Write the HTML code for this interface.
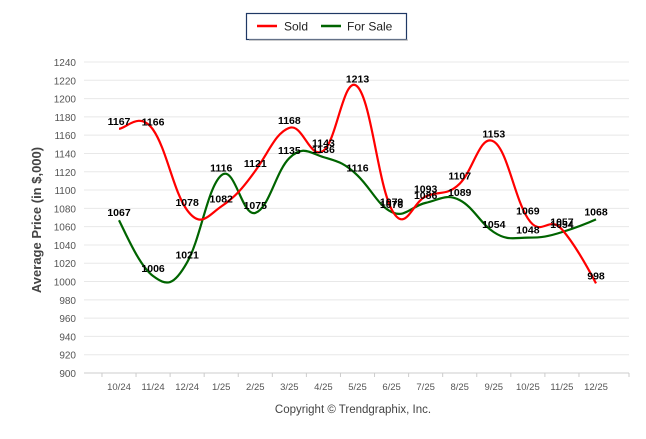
<!DOCTYPE html>
<html><head><meta charset="utf-8"><style>
body{margin:0;background:#fff;width:646px;height:434px;overflow:hidden;font-family:"Liberation Sans",sans-serif}
</style></head><body>
<svg id="c" width="646" height="434">
<g>
<rect x="246.5" y="13.5" width="160" height="26" fill="#fff" stroke="#1f3864" stroke-width="1.2"/>
<rect x="249" y="39" width="159" height="2" fill="#aaa" opacity="0.5"/>
<line x1="257" y1="26" x2="277" y2="26" stroke="#f00" stroke-width="2.5"/>
<text x="284" y="30.5" font-size="12" fill="#222">Sold</text>
<line x1="321" y1="26" x2="341" y2="26" stroke="#006400" stroke-width="2.5"/>
<text x="347" y="30.5" font-size="12" fill="#222">For Sale</text>
</g>
<text transform="translate(41,220) rotate(-90)" text-anchor="middle" font-size="13" font-weight="bold" fill="#444">Average Price (in $,000)</text>
<text x="353" y="413" text-anchor="middle" font-size="11.5" fill="#444">Copyright © Trendgraphix, Inc.</text>
<g id="grid"></g><g id="lines"></g><g id="labels"></g>
</svg>
<script>
const categories=["10/24","11/24","12/24","1/25","2/25","3/25","4/25","5/25","6/25","7/25","8/25","9/25","10/25","11/25","12/25"];
const sold=[1167,1166,1078,1082,1121,1168,1143,1213,1079,1093,1107,1153,1069,1057,998];
const forSale=[1067,1006,1021,1116,1075,1135,1136,1116,1076,1086,1089,1054,1048,1054,1068];
const yTicks=[900,920,940,960,980,1000,1020,1040,1060,1080,1100,1120,1140,1160,1180,1200,1220,1240];
const NS="http://www.w3.org/2000/svg";
const L=84,R=629,T=62,B=373,x0=119,step=(596-119)/14;
const xs=i=>x0+i*step, ys=v=>B-(v-900)/(340)*(B-T);
function mk(t,a,p){const e=document.createElementNS(NS,t);for(const k in a)e.setAttribute(k,a[k]);p.appendChild(e);return e;}
const g=document.getElementById('grid');
yTicks.forEach(v=>{
 const ln=mk('line',{x1:L,x2:R,y1:ys(v),y2:ys(v),stroke:'#e8e8e8','stroke-width':1},g);
 
 
 const t=mk('text',{x:76,y:ys(v)+4,'text-anchor':'end','font-size':'10',fill:'#555'},g);
 t.textContent=v;
 
 
});
mk('line',{x1:L,x2:R,y1:B,y2:B,stroke:'#ccc'},g);
categories.forEach((c,i)=>{
 mk('line',{x1:xs(i)-step/2,x2:xs(i)-step/2,y1:B,y2:B+4,stroke:'#ccc'},g);
 const t=mk('text',{x:xs(i),y:390,'text-anchor':'middle','font-size':'9.5',fill:'#555'},g);
 t.textContent=c;
 
 
});
mk('line',{x1:R,x2:R,y1:B,y2:B+4,stroke:'#ccc'},g);
function path(vals){
 const p=vals.map((v,i)=>[xs(i),ys(v)]);let d='M'+p[0][0]+','+p[0][1];
 for(let i=0;i<p.length-1;i++){
  const a=p[i-1]||p[i],b=p[i],c=p[i+1],e=p[i+2]||c,k=0.24;
  d+=`C${b[0]+(c[0]-a[0])*k/1.2},${b[1]+(c[1]-a[1])*k} ${c[0]-(e[0]-b[0])*k/1.2},${c[1]-(e[1]-b[1])*k} ${c[0]},${c[1]}`;
 }return d;}
const lg=document.getElementById('lines'),lb=document.getElementById('labels');
[[forSale,'#006400','for-sale'],[sold,'#f00','sold']].forEach(([vals,col,n])=>{
 const p=mk('path',{d:path(vals),fill:'none',stroke:col,'stroke-width':2.2},lg);
 
 
 vals.forEach((v,i)=>{
  const t=mk('text',{x:xs(i),y:ys(v)-4,'text-anchor':'middle','font-size':'10.5','font-weight':'bold',fill:'#000'},lb);
  t.textContent=v;
  
  
 });
});
</script>
</body></html>
